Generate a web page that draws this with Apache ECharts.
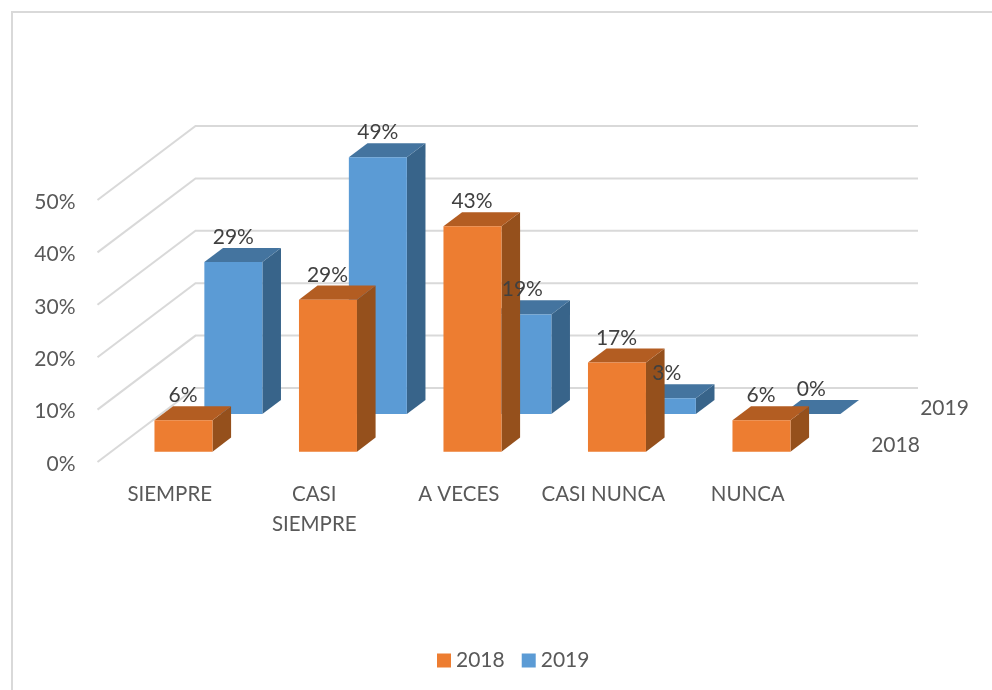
<!DOCTYPE html>
<html>
<head>
<meta charset="utf-8">
<style>html,body{margin:0;padding:0;background:#fff}#chart{width:992px;height:690px}</style>
<script src="https://cdn.jsdelivr.net/npm/echarts@6/dist/echarts.min.js"></script>
</head>
<body>
<div id="chart"></div>
<script>
const categories = ['SIEMPRE', 'CASI SIEMPRE', 'A VECES', 'CASI NUNCA', 'NUNCA'];
const years = ['2018', '2019'];
const values2018 = [6, 29, 43, 17, 6];
const values2019 = [29, 49, 19, 3, 0];
const valueTicks = [0, 10, 20, 30, 40, 50];

// Oblique projection of the chart's depth axis, in pixels per full depth.
const DEPTH_X = 98, DEPTH_Y = -74;
const BAR_WIDTH = 58 / 144.5;   // share of a category band
const BAR_DEPTH = 0.19;         // share of the floor depth
const FONT = 'Lato, "Open Sans", sans-serif';
const FONT_SIZE = 21;

const shift = (p, d) => [p[0] + d * DEPTH_X, p[1] + d * DEPTH_Y];
const face = (pts, fill) => ({ type: 'polygon', shape: { points: pts }, style: { fill: fill } });

function barRenderer(front, side, top, depth) {
  return function (params, api) {
    const base = api.coord([api.value(0), 0]);
    const head = api.coord([api.value(0), api.value(1)]);
    const half = api.size([1, 0])[0] * BAR_WIDTH / 2;
    const fl = shift([base[0] - half, base[1]], depth), fr = shift([base[0] + half, base[1]], depth);
    const tl = shift([base[0] - half, head[1]], depth), tr = shift([base[0] + half, head[1]], depth);
    const back = p => shift(p, BAR_DEPTH);
    return {
      type: 'group',
      children: [
        face([fr, tr, back(tr), back(fr)], side),
        face([tl, tr, back(tr), back(tl)], top),
        face([fl, fr, tr, tl], front)
      ]
    };
  };
}

function labelRenderer(depth) {
  return function (params, api) {
    const head = api.coord([api.value(0), api.value(1)]);
    const p = shift(head, depth);
    return {
      type: 'text',
      style: {
        text: api.value(1) + '%', x: p[0], y: p[1] - 25,
        align: 'center', verticalAlign: 'middle',
        fontFamily: FONT, fontSize: FONT_SIZE, fill: '#404040'
      }
    };
  };
}

function wallRenderer(params, api) {
  const p = api.coord([0, api.value(1)]);
  const band = api.size([1, 0])[0];
  const left = [p[0] - band / 2, p[1]];
  const corner = shift(left, 1);
  const right = [corner[0] + band * categories.length, corner[1]];
  return {
    type: 'polyline',
    shape: { points: [left, corner, right] },
    style: { fill: 'none', stroke: '#D9D9D9', lineWidth: 2 }
  };
}

function depthLabelRenderer(params, api) {
  const last = api.coord([categories.length - 1, 0]);
  const band = api.size([1, 0])[0];
  const p = shift([last[0] + band / 2 + 51, last[1] + 2], api.value(1));
  return {
    type: 'text',
    style: {
      text: years[params.dataIndex], x: p[0], y: p[1],
      align: 'center', verticalAlign: 'middle',
      fontFamily: FONT, fontSize: FONT_SIZE, fill: '#595959'
    }
  };
}

const rows = data => data.map((v, i) => [i, v]);

const chart = echarts.init(document.getElementById('chart'), null, { renderer: 'canvas' });
chart.setOption({
  animation: false,
  backgroundColor: '#fff',
  textStyle: { fontFamily: FONT },
  graphic: [{
    type: 'polyline',
    shape: { points: [[12, 690], [12, 12], [992, 12]] },
    style: { fill: 'none', stroke: '#D9D9D9', lineWidth: 2 },
    silent: true
  }],
  grid: { left: 97.5, top: 200, width: 722.5, height: 262 },
  legend: {
    data: years,
    left: 432, top: 645,
    icon: 'rect', itemWidth: 14, itemHeight: 14, itemGap: 17,
    textStyle: { fontFamily: FONT, fontSize: FONT_SIZE, color: '#595959' }
  },
  xAxis: {
    type: 'category',
    data: categories,
    axisLine: { show: false },
    axisTick: { show: false },
    axisLabel: {
      interval: 0, margin: 17, lineHeight: 30,
      formatter: name => name.replace('CASI SIEMPRE', 'CASI\nSIEMPRE'),
      fontFamily: FONT, fontSize: 20.5, color: '#595959'
    }
  },
  yAxis: {
    type: 'value',
    min: 0, max: 50, interval: 10,
    axisLine: { show: false },
    axisTick: { show: false },
    splitLine: { show: false },
    axisLabel: {
      margin: 22, formatter: '{t|{value}%}',
      rich: {
        t: { padding: [4, 0, 0, 0], fontFamily: FONT, fontSize: FONT_SIZE, color: '#595959' }
      }
    }
  },
  series: [
    {
      name: 'paredes', type: 'custom', z: 1, silent: true,
      data: valueTicks.map(v => [0, v]), encode: { x: 0, y: 1 },
      renderItem: wallRenderer
    },
    {
      name: '2019', type: 'custom', z: 2,
      itemStyle: { color: '#5B9BD5' },
      data: rows(values2019), encode: { x: 0, y: 1 },
      renderItem: barRenderer('#5B9BD5', '#38648A', '#44749F', 0.649)
    },
    {
      name: '2018', type: 'custom', z: 3,
      itemStyle: { color: '#ED7D31' },
      data: rows(values2018), encode: { x: 0, y: 1 },
      renderItem: barRenderer('#ED7D31', '#95501C', '#B35D22', 0.14)
    },
    {
      name: 'etiquetas 2019', type: 'custom', z: 4, silent: true,
      data: rows(values2019), encode: { x: 0, y: 1 },
      renderItem: labelRenderer(0.649)
    },
    {
      name: 'etiquetas 2018', type: 'custom', z: 4, silent: true,
      data: rows(values2018), encode: { x: 0, y: 1 },
      renderItem: labelRenderer(0.135)
    },
    {
      name: 'eje de profundidad', type: 'custom', z: 4, silent: true,
      data: [[0, 0.25], [0, 0.75]], encode: { x: 0 },
      renderItem: depthLabelRenderer
    }
  ]
});
</script>
</body>
</html>
